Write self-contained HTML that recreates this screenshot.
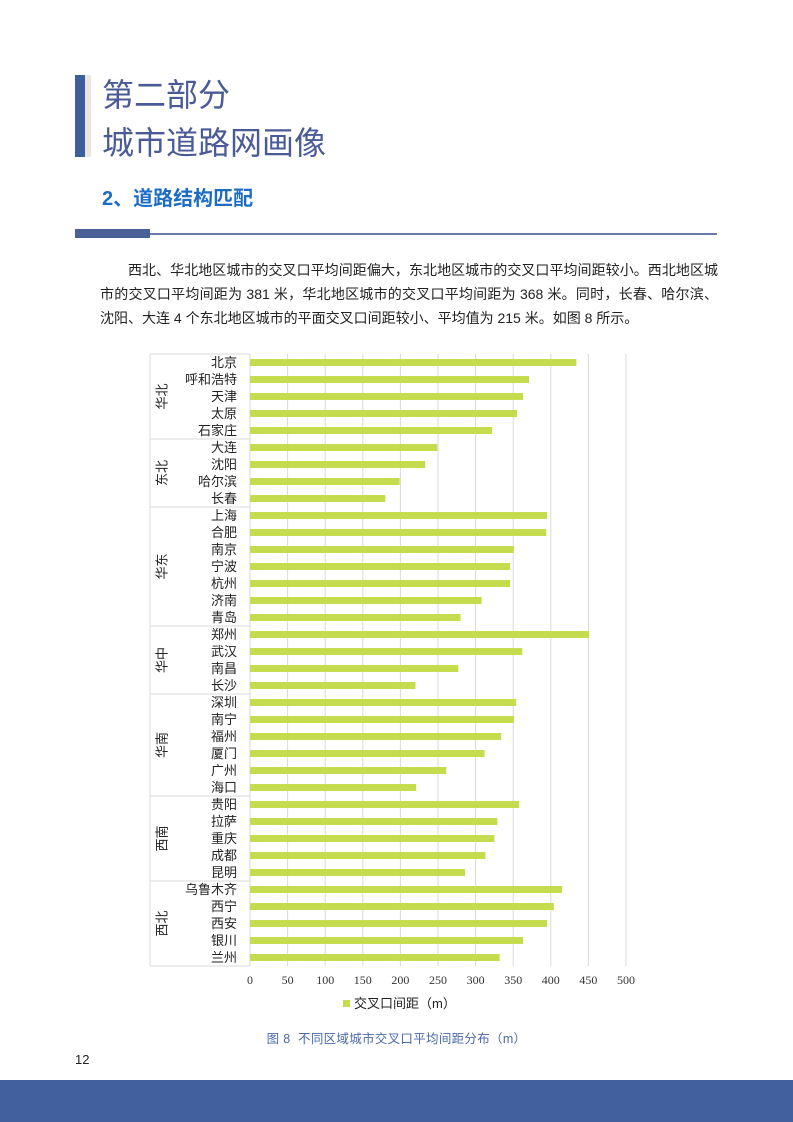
<!DOCTYPE html>
<html><head><meta charset="utf-8">
<style>
body{margin:0;width:793px;height:1122px;position:relative;background:#fff;font-family:"Liberation Sans","Noto Sans CJK SC",sans-serif;overflow:hidden}
.abs{position:absolute}
p.body{position:absolute;left:100px;top:258px;width:618px;margin:0;font-size:14px;line-height:24px;color:#222;text-indent:28px;text-align:justify;text-align-last:left}
</style></head><body>
<div class="abs" style="left:75px;top:75px;width:10px;height:82px;background:#3f5e9c"></div>
<div class="abs" style="left:85px;top:75px;width:6px;height:82px;background:#ebe7df"></div>
<div class="abs" style="left:102px;top:71px;font-size:32px;line-height:48px;color:#4a5a96">第二部分<br>城市道路网画像</div>
<div class="abs" style="left:102px;top:182px;font-size:20px;font-weight:bold;color:#1c6cc4">2、道路结构匹配</div>
<div class="abs" style="left:75px;top:229px;width:75px;height:9px;background:#4a6098"></div>
<div class="abs" style="left:150px;top:233px;width:567px;height:1.5px;background:#6a7aa8"></div>
<p class="body">西北、华北地区城市的交叉口平均间距偏大，东北地区城市的交叉口平均间距较小。西北地区城市的交叉口平均间距为 381 米，华北地区城市的交叉口平均间距为 368 米。同时，长春、哈尔滨、沈阳、大连 4 个东北地区城市的平面交叉口间距较小、平均值为 215 米。如图 8 所示。</p>
<svg class="abs" style="left:0;top:0" width="793" height="1122">
<g id="g"></g>
</svg>
<div class="abs" style="left:0;width:793px;top:1028px;text-align:center;font-size:12.5px;color:#4a6aa8;letter-spacing:0.3px">图 8&nbsp; 不同区域城市交叉口平均间距分布（m）</div>
<div class="abs" style="left:75px;top:1052px;font-size:13px;color:#222">12</div>
<div class="abs" style="left:0;top:1080px;width:793px;height:42px;background:#41609d"></div>
<script>
const cities=["北京","呼和浩特","天津","太原","石家庄","大连","沈阳","哈尔滨","长春","上海","合肥","南京","宁波","杭州","济南","青岛","郑州","武汉","南昌","长沙","深圳","南宁","福州","厦门","广州","海口","贵阳","拉萨","重庆","成都","昆明","乌鲁木齐","西宁","西安","银川","兰州"];
const values=[434,371,363,355,322,249,233,199,180,395,394,351,346,346,308,280,451,362,277,220,354,351,334,312,261,221,358,329,325,313,286,415,404,395,363,332];
const regions=["华北","东北","华东","华中","华南","西南","西北"];
const regionCounts=[5,4,7,4,6,5,5];
const ticks=[0,50,100,150,200,250,300,350,400,450,500];
const NS="http://www.w3.org/2000/svg";
const g=document.getElementById('g');
const x0=250,x1=626,yTop=354,yBot=966,pitch=(yBot-yTop)/cities.length;
const sx=v=>x0+(v/500)*(x1-x0);
function mk(t,a){const e=document.createElementNS(NS,t);for(const k in a)e.setAttribute(k,a[k]);g.appendChild(e);return e;}
ticks.forEach(t=>{
  const l=mk('line',{x1:sx(t),x2:sx(t),y1:yTop,y2:yBot,stroke:'#d9d9d9','stroke-width':1});
  
  
  const tx=mk('text',{x:sx(t),y:yBot+18,'text-anchor':'middle','font-size':12,'font-family':'Liberation Serif, serif',fill:'#333'});
  tx.textContent=t;
  
  
});
mk('line',{x1:150,x2:x0,y1:yTop,y2:yTop,stroke:'#d9d9d9'});
mk('line',{x1:150,x2:150,y1:yTop,y2:yBot,stroke:'#d9d9d9'});
mk('line',{x1:150,x2:x0,y1:yBot,y2:yBot,stroke:'#d9d9d9'});
cities.forEach((c,i)=>{
  const cy=yTop+pitch*(i+0.5);
  const b=mk('rect',{x:x0,y:cy-3.5,width:sx(values[i])-x0,height:7,fill:'#c5dc4e'});
  
  
  const t=mk('text',{x:237,y:cy+4.5,'text-anchor':'end','font-size':13,fill:'#222'});
  t.textContent=c;
  
  
});
let idx=0;
regions.forEach((r,k)=>{
  const ya=yTop+pitch*idx, yb=yTop+pitch*(idx+regionCounts[k]);
  if(idx>0){const l=mk('line',{x1:150,x2:x0,y1:ya,y2:ya,stroke:'#d9d9d9'});}
  const ym=(ya+yb)/2;
  const t=mk('text',{x:162,y:ym,'text-anchor':'middle','font-size':13,fill:'#222',transform:`rotate(-90 162 ${ym}) translate(0 4.5)`});
  t.textContent=r;
  
  
  idx+=regionCounts[k];
});
const lg=mk('rect',{x:343,y:1000,width:7,height:7,fill:'#c5dc4e'});


const lt=mk('text',{x:354,y:1008,'font-size':13,fill:'#222'});
lt.textContent='交叉口间距（m）';


</script>
</body></html>
